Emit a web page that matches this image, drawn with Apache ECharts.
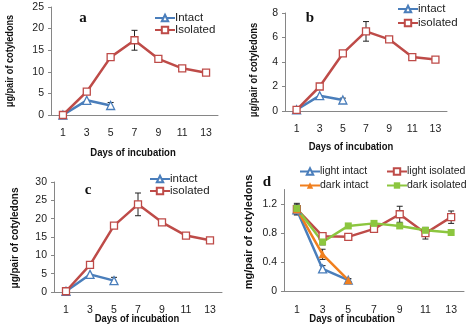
<!DOCTYPE html>
<html><head><meta charset="utf-8">
<script src="https://cdn.jsdelivr.net/npm/echarts@6/dist/echarts.min.js"></script>
<style>html,body{margin:0;padding:0;background:#fff}#c{width:468px;height:328px}</style>
</head><body><div id="c"></div>
<script>
const days = ['1', '3', '5', '7', '9', '11', '13'];
// panel a
const aIntact = [0, 3.4, 2.2];
const aIntactErr = [0, 0, 0.7];
const aIsolated = [0, 5.4, 13.4, 17.3, 13.0, 10.8, 9.8];
const aIsolatedErr = [0, 0, 0, 2.3, 0.6, 0, 0];
// panel b
const bIntact = [0.1, 1.25, 0.9];
const bIntactErr = [0, 0, 0.15];
const bIsolated = [0.1, 2.0, 4.7, 6.5, 5.85, 4.4, 4.2];
const bIsolatedErr = [0, 0, 0, 0.8, 0, 0, 0];
// panel c
const cIntact = [0.2, 4.8, 3.1];
const cIntactErr = [0, 0, 0.9];
const cIsolated = [0.2, 7.4, 18.1, 23.9, 19.0, 15.4, 14.1];
const cIsolatedErr = [0, 0, 0, 3.1, 0, 0, 0];
// panel d
const dLightIntact = [1.12, 0.31, 0.155];
const dLightIntactErr = [0.06, 0.045, 0.02];
const dLightIsolated = [1.13, 0.76, 0.75, 0.86, 1.06, 0.80, 1.02];
const dLightIsolatedErr = [0.08, 0.03, 0.03, 0.03, 0.11, 0.08, 0.085];
const dDarkIntact = [1.13, 0.51, 0.155];
const dDarkIntactErr = [0.05, 0.07, 0.02];
const dDarkIsolated = [1.14, 0.68, 0.90, 0.935, 0.90, 0.84, 0.81];
const dDarkIsolatedErr = [0.05, 0.04, 0, 0, 0, 0.03, 0];

const BLUE = '#4a7ebb', RED = '#be4b48', ORANGE = '#f07f1e', GREEN = '#8cc63f';
const FONT = 'Liberation Sans';
const chart = echarts.init(document.getElementById('c'));

const grids = [
  {left: 51, top: 7, width: 167, height: 108},
  {left: 285, top: 13, width: 162, height: 98},
  {left: 54, top: 182, width: 168, height: 110},
  {left: 284, top: 189.5, width: 180, height: 102}
];
const yCfg = [
  {min: 0, max: 25, interval: 5},
  {min: 0, max: 8, interval: 2},
  {min: 0, max: 30, interval: 5},
  {min: 0, max: 1.4, interval: 0.4}
];
const xAxis = grids.map((g, i) => ({
  type: 'category', gridIndex: i, data: days, boundaryGap: true,
  axisLine: {lineStyle: {color: '#868686', width: 1}},
  axisTick: {inside: true, length: 4, lineStyle: {color: '#868686'}},
  axisLabel: {color: '#222', fontSize: 10.5, fontFamily: FONT, margin: 13}
}));
const yAxis = yCfg.map((c, i) => ({
  type: 'value', gridIndex: i, min: c.min, max: c.max, interval: c.interval,
  splitLine: {show: false},
  axisLine: {show: true, lineStyle: {color: '#868686', width: 1}},
  axisTick: {show: true, length: 3, lineStyle: {color: '#868686'}},
  axisLabel: {color: '#222', fontSize: 10.5, fontFamily: FONT, margin: 7, showMaxLabel: i !== 3}
}));

function lineSeries(name, data, idx, color, symbol, open) {
  return {
    type: 'line', name: name, data: data, xAxisIndex: idx, yAxisIndex: idx,
    symbol: symbol, symbolSize: symbol === 'rect' ? 7 : 8, showSymbol: true,
    lineStyle: {color: color, width: 2.5},
    itemStyle: open ? {color: '#fff', borderColor: color, borderWidth: 1.3} : {color: color, borderColor: color, borderWidth: 0},
    z: 3, animation: false
  };
}
function errSeries(means, errs, idx) {
  const data = [];
  means.forEach((m, i) => { if (errs[i] > 0) data.push([i, m - errs[i], m + errs[i]]); });
  return {
    type: 'custom', xAxisIndex: idx, yAxisIndex: idx, data: data, z: 1, silent: true,
    encode: {x: 0, y: [1, 2]}, animation: false,
    renderItem: function (params, api) {
      const x = api.value(0);
      const top = api.coord([x, api.value(2)]);
      const bot = api.coord([x, api.value(1)]);
      const w = 3;
      const st = {stroke: '#222', lineWidth: 1};
      return {type: 'group', children: [
        {type: 'line', shape: {x1: top[0], y1: top[1], x2: bot[0], y2: bot[1]}, style: st},
        {type: 'line', shape: {x1: top[0] - w, y1: top[1], x2: top[0] + w, y2: top[1]}, style: st},
        {type: 'line', shape: {x1: bot[0] - w, y1: bot[1], x2: bot[0] + w, y2: bot[1]}, style: st}
      ]};
    }
  };
}

const series = [
  errSeries(aIntact, aIntactErr, 0), errSeries(aIsolated, aIsolatedErr, 0),
  lineSeries('Intact', aIntact, 0, BLUE, 'triangle', true),
  lineSeries('Isolated', aIsolated, 0, RED, 'rect', true),
  errSeries(bIntact, bIntactErr, 1), errSeries(bIsolated, bIsolatedErr, 1),
  lineSeries('intact', bIntact, 1, BLUE, 'triangle', true),
  lineSeries('isolated', bIsolated, 1, RED, 'rect', true),
  errSeries(cIntact, cIntactErr, 2), errSeries(cIsolated, cIsolatedErr, 2),
  lineSeries('intact', cIntact, 2, BLUE, 'triangle', true),
  lineSeries('isolated', cIsolated, 2, RED, 'rect', true),
  errSeries(dLightIntact, dLightIntactErr, 3), errSeries(dLightIsolated, dLightIsolatedErr, 3),
  errSeries(dDarkIntact, dDarkIntactErr, 3), errSeries(dDarkIsolated, dDarkIsolatedErr, 3),
  lineSeries('light intact', dLightIntact, 3, BLUE, 'triangle', true),
  lineSeries('light isolated', dLightIsolated, 3, RED, 'rect', true),
  lineSeries('dark intact', dDarkIntact, 3, ORANGE, 'triangle', false),
  lineSeries('dark isolated', dDarkIsolated, 3, GREEN, 'rect', false)
];

function legend(names, left, top, gap, fs) {
  return {
    data: names, left: left, top: top, orient: 'vertical', itemGap: gap,
    itemWidth: 20, itemHeight: 8, selectedMode: false, padding: 0,
    textStyle: {color: '#222', fontSize: fs || 11.5, fontFamily: FONT, padding: [0, 0, 0, -5]}
  };
}
const legends = [
  legend(['Intact', 'Isolated'], 154, 12, 0),
  legend(['intact', 'isolated'], 397, 3, 2),
  legend(['intact', 'isolated'], 149, 173, 0),
  legend(['light intact', 'dark intact'], 299, 166, 3, 10.5),
  legend(['light isolated', 'dark isolated'], 386, 166, 3, 10.5)
];

function txt(s, x, y, font, rot, sx) {
  return {type: 'text', x: x, y: y, rotation: rot || 0, scaleX: sx || 1,
    style: {text: s, font: font, fill: '#111', align: 'center', verticalAlign: 'middle'}};
}
const TF = 'bold 10.5px "Liberation Sans"';
const LF = 'bold 15px "Liberation Serif"';
const R = Math.PI / 2;
const graphic = [
  txt('a', 83, 18, LF), txt('b', 310, 18, LF), txt('c', 88, 190, LF), txt('d', 267, 182, LF),
  txt('μg/pair of cotyledons', 10, 61, TF, R, 0.87),
  txt('μg/pair of cotyledons', 254, 70, TF, R, 0.89),
  txt('μg/pair of cotyledons', 15, 238, TF, R, 0.95),
  txt('mg/pair of cotyledons', 249, 232, TF, R, 1.05),
  txt('Days of incubation', 133, 153, TF, 0, 0.91),
  txt('Days of incubation', 351, 147, TF, 0, 0.9),
  txt('Days of incubation', 137, 319, TF, 0, 0.9),
  txt('Days of incubation', 352, 319, TF, 0, 0.91)
];

chart.setOption({
  animation: false,
  grid: grids, xAxis: xAxis, yAxis: yAxis, series: series, legend: legends, graphic: graphic
});
</script></body></html>
